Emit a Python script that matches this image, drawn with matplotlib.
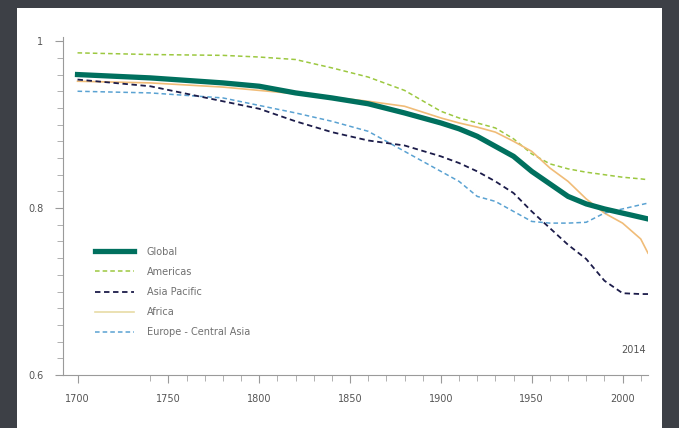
import matplotlib.pyplot as plt
from matplotlib.patches import Rectangle
from matplotlib.lines import Line2D

# Index values (1700 - 2014)
years = [1700, 1740, 1780, 1800, 1820, 1840, 1860, 1880, 1900, 1910, 1920,
         1930, 1940, 1950, 1960, 1970, 1980, 1990, 2000, 2010, 2014]
global_idx = [0.960, 0.956, 0.950, 0.946, 0.938, 0.932, 0.925, 0.914, 0.902, 0.895, 0.886,
              0.874, 0.862, 0.844, 0.829, 0.814, 0.805, 0.799, 0.794, 0.789, 0.787]
americas = [0.986, 0.984, 0.983, 0.981, 0.978, 0.968, 0.957, 0.941, 0.916, 0.908, 0.902,
            0.896, 0.883, 0.865, 0.853, 0.847, 0.843, 0.840, 0.837, 0.835, 0.834]
asia_pacific = [0.954, 0.946, 0.928, 0.919, 0.904, 0.891, 0.881, 0.875, 0.862, 0.854, 0.844,
                0.832, 0.818, 0.796, 0.776, 0.756, 0.739, 0.713, 0.698, 0.697, 0.697]
africa = [0.952, 0.950, 0.945, 0.941, 0.937, 0.933, 0.928, 0.922, 0.908, 0.902, 0.897,
          0.891, 0.880, 0.868, 0.848, 0.832, 0.811, 0.794, 0.782, 0.763, 0.746]
europe_ca = [0.940, 0.938, 0.932, 0.923, 0.914, 0.904, 0.892, 0.868, 0.844, 0.832, 0.814,
             0.808, 0.796, 0.784, 0.782, 0.782, 0.783, 0.794, 0.799, 0.804, 0.806]

labels = ['Global', 'Americas', 'Asia Pacific', 'Africa', 'Europe - Central Asia']
x_ticks = [1700, 1750, 1800, 1850, 1900, 1950, 2000]
y_ticks = [0.6, 0.8, 1.0]
y_tick_labels = ['0.6', '0.8', '1']

fig = plt.figure(figsize=(6.79, 4.28), dpi=100)
fig.patch.set_facecolor('#3d4046')
# white slide panel behind the chart
fig.patches.append(Rectangle((17 / 679, 0), 645 / 679, 420 / 428,
                             transform=fig.transFigure, facecolor='white',
                             edgecolor='none', zorder=-10))

ax = fig.add_axes([63 / 679, 1 - 375 / 428, 585 / 679, 338 / 428])
ax.set_facecolor('none')
ax.set_zorder(5)

dash = (0, (3, 2))
ax.plot(years, americas, color='#9cc840', lw=1.1, linestyle=dash)
ax.plot(years, africa, color='#f0bc78', lw=1.2)
ax.plot(years, europe_ca, color='#5aa2d2', lw=1.1, linestyle=dash)
ax.plot(years, asia_pacific, color='#1c1c4a', lw=1.3, linestyle=dash)
ax.plot(years, global_idx, color='#00705e', lw=3.8)

ax.set_xlim(1692, 2014)
ax.set_ylim(0.6, 1.005)

for side in ['top', 'right']:
    ax.spines[side].set_visible(False)
for side in ['left', 'bottom']:
    ax.spines[side].set_color('#9a9a9a')
    ax.spines[side].set_linewidth(0.8)

ax.set_xticks(x_ticks)
ax.set_xticklabels([str(y) for y in x_ticks])
ax.set_xticks(list(range(1740, 2014, 10)), minor=True)
ax.set_yticks(y_ticks)
ax.set_yticklabels(y_tick_labels)
ax.set_yticks([0.62 + 0.02 * i for i in range(19) if round(0.62 + 0.02 * i, 2) != 0.8], minor=True)
ax.tick_params(which='major', length=6, width=0.8, color='#9a9a9a',
               labelsize=7, labelcolor='#555555', pad=8)
ax.tick_params(which='minor', length=4, width=0.7, color='#b0b0b0')

ax.text(2013, 0.63, '2014', fontsize=7, color='#555555', ha='right', va='center')

handles = [
    Line2D([], [], color='#00705e', lw=3.8),
    Line2D([], [], color='#9cc840', lw=1.1, linestyle=dash),
    Line2D([], [], color='#1c1c4a', lw=1.3, linestyle=dash),
    Line2D([], [], color='#e8dca6', lw=1.2),
    Line2D([], [], color='#5aa2d2', lw=1.1, linestyle=dash),
]
ax.legend(handles, labels, loc='upper left', bbox_to_anchor=(0.055, 0.38),
          frameon=False, fontsize=7, labelcolor='#707070', handlelength=4,
          handletextpad=1.3, labelspacing=1.05, borderpad=0, borderaxespad=0)

plt.savefig('out.png', dpi=100, facecolor=fig.get_facecolor())
